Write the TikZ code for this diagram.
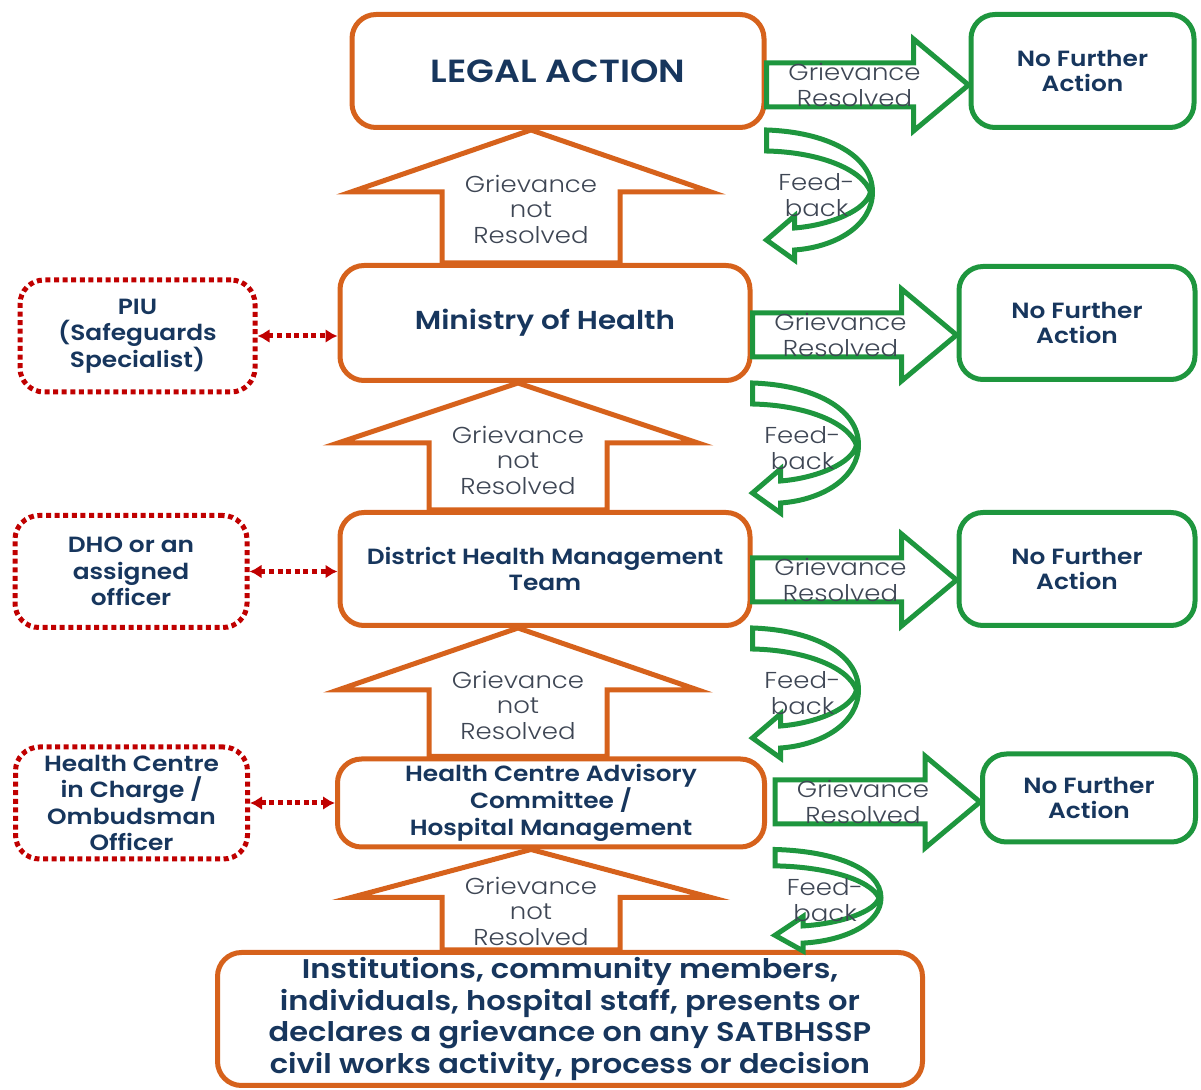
\documentclass[tikz,border=0pt]{standalone}
\usepackage{fontspec}
\setmainfont{Poppins}[UprightFont={* Light},BoldFont={* SemiBold},FakeStretch=1.13]
\usepackage{tikz}
\usetikzlibrary{arrows.meta,positioning,calc}
\definecolor{rust}{RGB}{214,98,28}
\definecolor{leaf}{RGB}{30,150,62}
\definecolor{navy}{RGB}{23,54,93}
\definecolor{crimson}{RGB}{192,0,0}
\definecolor{slate}{RGB}{62,70,84}

\begin{document}
\begin{tikzpicture}[x=0.5pt,y=-0.5pt,>=Latex,
  every node/.style={align=center,text=navy},
  stagebox/.style={draw=rust,line width=2.5pt,rounded corners=12pt,fill=white,inner sep=2pt},
  endbox/.style={draw=leaf,line width=2.5pt,rounded corners=12pt,minimum height=56.5pt,font=\fontsize{11}{12.5}\selectfont\bfseries},
  helperbox/.style={draw=crimson,line width=2.5pt,dash pattern=on 2.5pt off 1.8pt,rounded corners=12pt,minimum width=116pt,minimum height=56pt,font=\fontsize{11}{13.3}\selectfont\bfseries},
  linkarrow/.style={crimson,line width=2.5pt,dash pattern=on 2.5pt off 1.8pt,{Latex[length=6pt,width=7pt]}-{Latex[length=6pt,width=7pt]}},
  uparrow/.style={draw=rust,line width=2.5pt,line join=miter},
  resarrow/.style={draw=leaf,line width=2.5pt},
  steptext/.style={text=slate,font=\fontsize{11.5}{12.75}\selectfont},
]
  \useasboundingbox (0,0) rectangle (1201,1090);
  % main column
  \node[stagebox,minimum width=206pt,minimum height=56.5pt,font=\fontsize{16}{19}\selectfont\bfseries] (legal) at (558,71) {LEGAL ACTION};
  \node[stagebox,minimum width=205pt,minimum height=57.5pt,font=\fontsize{13}{15}\selectfont\bfseries] (moh) at (545,323) {Ministry of Health};
  \node[stagebox,minimum width=205pt,minimum height=56.5pt,font=\fontsize{11}{13}\selectfont\bfseries] (dhmt) at (545,569) {District Health Management\\Team};
  \node[stagebox,minimum width=213.5pt,minimum height=44pt,font=\fontsize{11}{13.5}\selectfont\bfseries] (hcac) at (551,803) {Health Centre Advisory\\Committee /\\Hospital Management};
  \node[stagebox,minimum width=352.5pt,minimum height=66.5pt,font=\fontsize{13.5}{15.75}\selectfont\bfseries] (source) at (570,1019) {Institutions, community members,\\individuals, hospital staff, presents or\\declares a grievance on any SATBHSSP\\civil works activity, process or decision};
  % outcomes
  \node[endbox,minimum width=111.5pt,right=101pt of legal] (nfa1) {No Further\\Action};
  \node[endbox,minimum width=118pt,right=102pt of moh] (nfa2) {No Further\\Action};
  \node[endbox,minimum width=118pt,right=102pt of dhmt] (nfa3) {No Further\\Action};
  \node[endbox,minimum width=106.5pt,minimum height=44pt,right=106.5pt of hcac,yshift=2.5pt] (nfa4) {No Further\\Action};
  % focal points
  \node[helperbox,minimum width=117.5pt,left=40pt of moh,yshift=-6.5pt] (piu) {PIU\\(Safeguards\\Specialist)};
  \node[helperbox,left=44pt of dhmt,yshift=-1.25pt] (dho) {DHO or an\\assigned\\officer};
  \node[helperbox,left=42.5pt of hcac] (hcic) {Health Centre\\in Charge /\\Ombudsman\\Officer};
  \draw[linkarrow] (piu.east) -- (piu.east -| moh.west);
  \draw[linkarrow] (dho.east) -- (dho.east -| dhmt.west);
  \draw[linkarrow] (hcic.east) -- (hcic.east -| hcac.west);
  % escalation
  \foreach \upper/\lower/\cx/\hl/\ty in {legal/moh/531/62/209, moh/dhmt/518/60/460, dhmt/hcac/518/62/705, hcac/source/531/48/911} {
    \coordinate (t-\lower) at (\cx,0 |- \upper.south);
    \coordinate (b-\lower) at (\cx,0 |- \lower.north);
    \draw[uparrow] ($(b-\lower)+(-89,0)$) |- ($(t-\lower)+(-180,\hl)$) -- (t-\lower) -- ($(t-\lower)+(180,\hl)$) -| ($(b-\lower)+(89,0)$) -- cycle;
    \node[steptext] (gnr-\lower) at (\cx,\ty) {Grievance\\not\\Resolved};
  }
  % resolution
  \foreach \src/\dst/\cy/\sx in {legal/nfa1/85/0, moh/nfa2/335/0, dhmt/nfa3/580/0, hcac/nfa4/802/8} {
    \coordinate (s-\dst) at ($(\src.east |- 0,\cy)+(\sx,0)$);
    \coordinate (e-\dst) at (\dst.west |- 0,\cy);
    \draw[resarrow] ($(s-\dst)+(0,-22)$) -- ($(e-\dst)+(-55,-22)$) -- ($(e-\dst)+(-55,-46)$) -- (e-\dst) -- ($(e-\dst)+(-55,46)$) -- ($(e-\dst)+(-55,22)$) -- ($(s-\dst)+(0,22)$) -- cycle;
    \node[steptext] (gr-\dst) at ($(s-\dst)+(88,0)$) {Grievance\\Resolved};
  }
  % feedback
  \foreach \src/\sx/\fs in {legal/0/1, moh/0/1, dhmt/0/1, hcac/8/0.78} {
    \begin{scope}[shift={($(\src.south east)+(\sx,0)$)},yscale=\fs]
      \draw[resarrow] (0,0) .. controls (60,2) and (106,25) .. (106,62) .. controls (106,95) and (70,117) .. (28,120) -- (28,130) -- (0,110) -- (28,86) -- (28,98) .. controls (65,95) and (100,80) .. (104,62) .. controls (95,38) and (50,22) .. (0,21) -- cycle;
      \node[steptext] (fb-\src) at (50,65) {Feed-\\back};
    \end{scope}
  }
\end{tikzpicture}
\end{document}
